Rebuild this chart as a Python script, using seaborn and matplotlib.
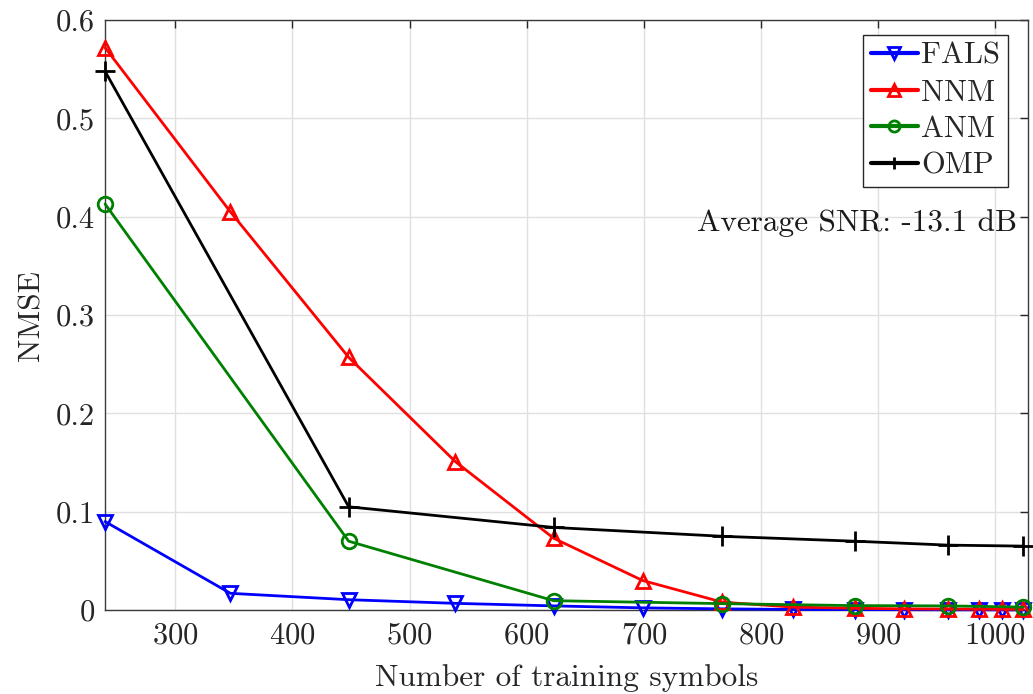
import numpy as np
import pandas as pd
import seaborn as sns
import matplotlib
matplotlib.use("Agg")
import matplotlib.pyplot as plt

# values
x_full = [240, 347, 448, 539, 623, 699, 767, 827, 880, 922, 960, 986, 1006, 1024]
fals = [0.090, 0.017, 0.0105, 0.0068, 0.0042, 0.0022, 0.0012, 0.0006, 0.0004, 0.0003,
        0.0002, 0.0002, 0.0001, 0.0001]
nnm = [0.572, 0.405, 0.257, 0.151, 0.073, 0.030, 0.008, 0.003, 0.0018, 0.0012,
       0.0010, 0.0009, 0.0008, 0.0006]
x_half = [240, 448, 623, 767, 880, 960, 1024]
anm = [0.413, 0.070, 0.0095, 0.0065, 0.0045, 0.0042, 0.0030]
omp = [0.548, 0.105, 0.084, 0.075, 0.070, 0.066, 0.065]

sns.set_style("whitegrid")
plt.rcParams['font.family'] = ['cmr10', 'DejaVu Serif']
plt.rcParams['mathtext.fontset'] = 'cm'
plt.rcParams['axes.unicode_minus'] = False
plt.rcParams['axes.formatter.use_mathtext'] = True

fig = plt.figure(figsize=(10.33, 6.94), dpi=100)
ax = fig.add_axes([0.1017, 0.121, 0.8935, 0.850])

series = [
    ("FALS", x_full, fals, "blue", "v"),
    ("NNM", x_full, nnm, "red", "^"),
    ("ANM", x_half, anm, "green", "o"),
    ("OMP", x_half, omp, "black", "+"),
]
for name, xs, ys, col, mk in series:
    df = pd.DataFrame({"x": xs, "y": ys})
    ms = 14 if mk == "+" else 10.5
    sns.lineplot(data=df, x="x", y="y", ax=ax, color=col, marker=mk, markersize=ms,
                 markerfacecolor="none", markeredgecolor=col, markeredgewidth=2.0,
                 linewidth=2.0, label=name, clip_on=False, zorder=3)

ax.set_xlim(240, 1028)
ax.set_ylim(0, 0.6)
ax.set_xticks(np.arange(300, 1001, 100))
ax.set_yticks(np.arange(0, 0.61, 0.1))
ax.set_yticklabels(["0", "0.1", "0.2", "0.3", "0.4", "0.5", "0.6"])
ax.grid(True, color="#e0e0e0", linewidth=1.0)
ax.tick_params(axis="both", direction="in", length=6, width=1, colors="#262626",
               labelsize=22, top=True, right=True)
ax.tick_params(axis="y", pad=7)
ax.tick_params(axis="x", pad=9)
for s in ax.spines.values():
    s.set_color("#3a3a3a")
    s.set_linewidth(1.0)

ax.set_xlabel("Number of training symbols", fontsize=22.5, color="#262626", labelpad=10)
ax.set_ylabel("NMSE", fontsize=22.5, color="#262626", labelpad=8)

ax.text(0.988, 0.656, "Average SNR: -13.1 dB", transform=ax.transAxes, ha="right",
        va="center", fontsize=22.5, color="#1a1a1a")

leg = ax.legend(loc="upper right", bbox_to_anchor=(0.978, 0.975), borderaxespad=0,
                fontsize=22, frameon=True, fancybox=False, handlelength=1.55,
                handletextpad=0.1, borderpad=0.25, labelspacing=0.3)
for h in leg.get_lines():
    h.set_linewidth(3.0)
    h.set_markersize(8)
leg.get_frame().set_edgecolor("#262626")
leg.get_frame().set_linewidth(1.0)
leg.get_frame().set_alpha(1.0)

fig.savefig("out.png", dpi=100)
